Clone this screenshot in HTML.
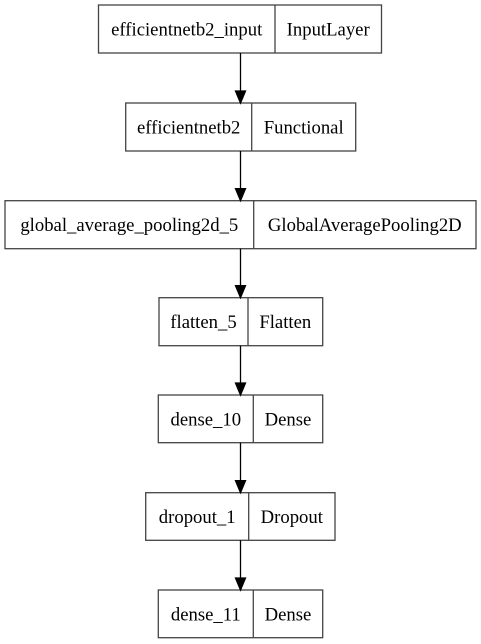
<!DOCTYPE html>
<html><head><style>html,body{margin:0;padding:0;background:#fff;}svg{display:block}</style></head>
<body>
<svg width="481" height="644" xmlns="http://www.w3.org/2000/svg" font-family="Liberation Serif, serif" font-size="18.7">
<rect width="481" height="644" fill="#fff"/>
<g fill="none" stroke="#444" stroke-width="1.3">
<rect x="98.5" y="5" width="283" height="48"/><line x1="275" y1="5" x2="275" y2="53"/>
<rect x="125.7" y="103" width="230" height="48"/><line x1="251.7" y1="103" x2="251.7" y2="151"/>
<rect x="5" y="200.7" width="471" height="48"/><line x1="253.7" y1="200.7" x2="253.7" y2="248.7"/>
<rect x="159" y="297.7" width="163.7" height="48"/><line x1="248" y1="297.7" x2="248" y2="345.7"/>
<rect x="158.3" y="395" width="164.4" height="47.7"/><line x1="253.3" y1="395" x2="253.3" y2="442.7"/>
<rect x="145.7" y="492.7" width="189.3" height="47.6"/><line x1="248.7" y1="492.7" x2="248.7" y2="540.3"/>
<rect x="158.3" y="590" width="164.4" height="47.7"/><line x1="253.3" y1="590" x2="253.3" y2="637.7"/>
</g>
<g stroke="#000" stroke-width="1.3" fill="#000">
<line x1="240.5" y1="53" x2="240.5" y2="92"/><polygon points="235.5,91 245.5,91 240.5,103"/>
<line x1="240.5" y1="151" x2="240.5" y2="189"/><polygon points="235.5,188.7 245.5,188.7 240.5,200.7"/>
<line x1="240.5" y1="248.7" x2="240.5" y2="286"/><polygon points="235.5,285.7 245.5,285.7 240.5,297.7"/>
<line x1="240.5" y1="345.7" x2="240.5" y2="384"/><polygon points="235.5,383 245.5,383 240.5,395"/>
<line x1="240.5" y1="442.7" x2="240.5" y2="481"/><polygon points="235.5,480.7 245.5,480.7 240.5,492.7"/>
<line x1="240.5" y1="540.3" x2="240.5" y2="579"/><polygon points="235.5,578 245.5,578 240.5,590"/>
</g>
<g fill="#000" text-anchor="middle">
<text x="186.7" y="35.5">efficientnetb2_input</text><text x="328.2" y="35.5">InputLayer</text>
<text x="188.7" y="133.5">efficientnetb2</text><text x="303.7" y="133.5">Functional</text>
<text x="129.3" y="231">global_average_pooling2d_5</text><text x="364.8" y="231">GlobalAveragePooling2D</text>
<text x="203.5" y="328">flatten_5</text><text x="285.3" y="328">Flatten</text>
<text x="205.8" y="425.5">dense_10</text><text x="288" y="425.5">Dense</text>
<text x="197.2" y="523">dropout_1</text><text x="291.8" y="523">Dropout</text>
<text x="205.8" y="620.5">dense_11</text><text x="288" y="620.5">Dense</text>
</g>
</svg>
</body></html>
